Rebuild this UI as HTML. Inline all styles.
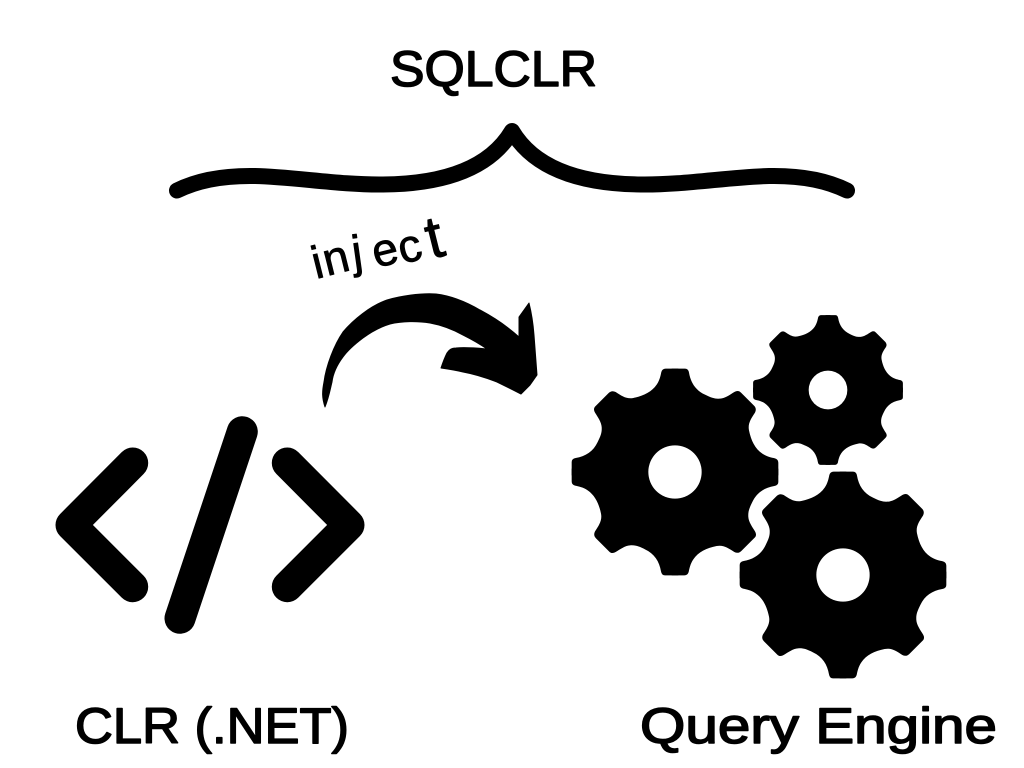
<!DOCTYPE html>
<html>
<head>
<meta charset="utf-8">
<style>
html,body{margin:0;padding:0;background:#fff;width:1024px;height:768px;overflow:hidden}
svg{display:block}
text{font-family:"Liberation Sans",sans-serif;fill:#000;stroke:#000;stroke-width:1.5;stroke-linejoin:round}
</style>
</head>
<body>
<svg width="1024" height="768" viewBox="0 0 1024 768" xmlns="http://www.w3.org/2000/svg">
<defs>
<g id="q"><path d="M-10,0 L-10,-310 L30,-310 Q40,-310 42,-298 C47,-268 62,-245 90,-232 C110,-222 120,-219 135,-220 C150,-221 165,-232 178,-240 Q190,-247 198,-238 L237,-199 Q246,-190 240,-178 C228,-160 218,-145 222,-125 C228,-95 240,-70 262,-55 C275,-46 290,-43 300,-41 Q310,-38 310,-28 L310,10 L-10,10 Z" fill="#000"/></g>
<g id="gear">
<use href="#q"/>
<use href="#q" transform="rotate(90)"/>
<use href="#q" transform="rotate(180)"/>
<use href="#q" transform="rotate(270)"/>
<circle r="80" fill="#fff"/>
</g>
</defs>
<rect width="1024" height="768" fill="#fff"/>

<text x="390" y="86" font-size="50" textLength="207" lengthAdjust="spacingAndGlyphs">SQLCLR</text>

<path d="M177,190.5 C200,179 228,175.500 255,176 C295,177 340,185 383,184.500 C445,184 490,168 512,131 C534,168 579,184 641,184.500 C684,185 729,177 769,176 C796,175.500 824,179 847,190.500" fill="none" stroke="#000" stroke-width="16" stroke-linecap="round" stroke-linejoin="round"/>

<text font-size="46" style="stroke-width:.8" x="316 327 354 376 402" y="279 276 268 268 264" rotate="-14 -14 -8 -14 -14">injec<tspan font-size="60" x="431" y="259" rotate="-14">t</tspan></text>

<path d="M325,407 C322,398 322,392 324,382 C326,366 334,345 343,332 C353,320 370,306 387,300 C400,296 420,293 436,294 C453,296 468,303 480,310 C495,318 508,327 519,337 L519,317 L529,303 C532,315 533,322 534,335 L537,375 L530,385 L521,394 C513,390 507,387 497,382 C484,377 474,374 463,372 C455,370 448,369 441,368 C443,362 445,357 447,353 C449,350 451,348 456,348 C466,347 476,348 487,349 C480,344 471,339 463,335 C452,329 441,325 430,323 C418,321 402,321 390,324 C380,327 371,332 363,338 C355,344 348,350 343,357 C337,365 333,374 332,382 C330,390 329,397 325,407 Z" fill="#000" stroke="#000" stroke-width="1" stroke-linejoin="round"/>

<g fill="none" stroke="#000" stroke-width="31" stroke-linecap="round" stroke-linejoin="round">
<path d="M132.700,463 L71,525 L132.700,586.700"/>
<path d="M287.300,463 L349,525 L287.300,586.700"/>
<path d="M242.300,431.700 L180,618.300"/>
</g>

<use href="#gear" transform="translate(675,472) scale(.3333)"/>
<use href="#gear" transform="translate(828,390) scale(.2416)"/>
<use href="#gear" transform="translate(843,575) scale(.3333)"/>

<text x="75" y="743" font-size="50" textLength="274" lengthAdjust="spacingAndGlyphs">CLR (.NET)</text>
<text x="640" y="743" font-size="50" textLength="357" lengthAdjust="spacingAndGlyphs">Query Engine</text>
</svg>
</body>
</html>
